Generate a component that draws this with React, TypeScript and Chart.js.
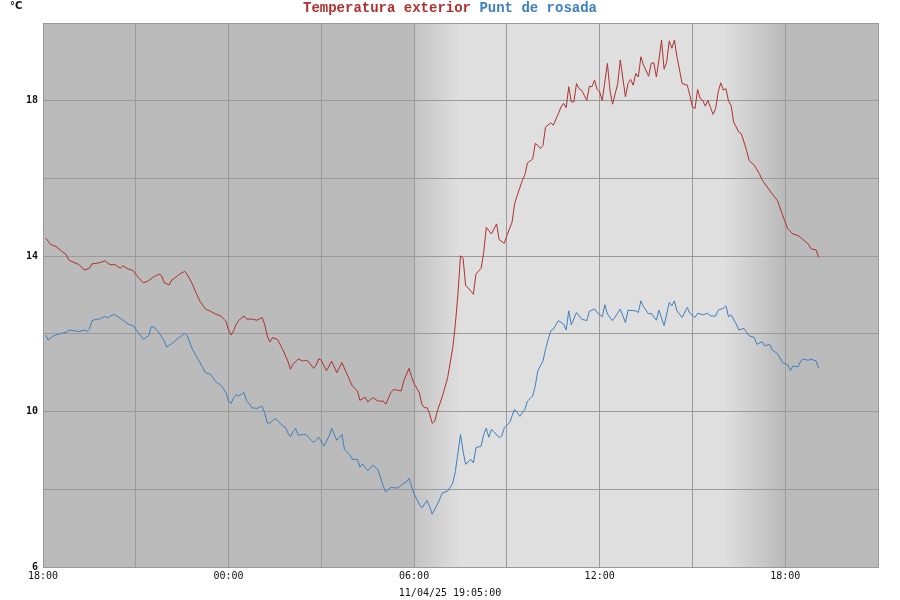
import React, { useEffect, useRef } from "react";
import { Chart, registerables } from "chart.js";

Chart.register(...registerables);

// minutes since 18:00 of previous day
const redTimes = [5, 15, 25, 35, 45, 50, 60, 70, 80, 90, 95, 110, 120, 130, 140, 150, 155, 165, 175, 185, 195, 205, 215, 225, 230, 235, 245, 250, 255, 265, 275, 280, 290, 295, 305, 315, 325, 335, 345, 355, 360, 365, 370, 375, 380, 390, 395, 405, 415, 425, 430, 435, 440, 445, 455, 465, 475, 480, 485, 495, 505, 510, 515, 525, 530, 535, 540, 550, 555, 560, 570, 580, 590, 600, 610, 615, 625, 630, 640, 650, 660, 665, 675, 680, 695, 700, 710, 715, 720, 730, 735, 740, 745, 750, 755, 760, 765, 775, 785, 795, 800, 805, 810, 815, 820, 825, 835, 840, 850, 855, 860, 870, 880, 885, 895, 900, 910, 915, 920, 930, 935, 940, 950, 955, 960, 965, 970, 975, 985, 990, 1000, 1005, 1010, 1015, 1020, 1025, 1030, 1035, 1040, 1045, 1055, 1060, 1065, 1070, 1075, 1080, 1085, 1095, 1100, 1105, 1115, 1120, 1130, 1135, 1140, 1145, 1150, 1155, 1160, 1165, 1175, 1180, 1185, 1190, 1195, 1200, 1205, 1210, 1215, 1220, 1225, 1230, 1235, 1240, 1250, 1255, 1260, 1265, 1270, 1275, 1280, 1285, 1290, 1295, 1300, 1305, 1310, 1315, 1320, 1325, 1330, 1335, 1340, 1350, 1355, 1365, 1370, 1380, 1390, 1395, 1405, 1415, 1425, 1435, 1445, 1455, 1465, 1475, 1485, 1490, 1500, 1505];
const redValues = [14.47, 14.30, 14.25, 14.14, 14.04, 13.90, 13.84, 13.78, 13.64, 13.69, 13.80, 13.83, 13.88, 13.78, 13.78, 13.69, 13.75, 13.67, 13.63, 13.45, 13.31, 13.37, 13.47, 13.54, 13.50, 13.32, 13.26, 13.39, 13.43, 13.54, 13.61, 13.52, 13.28, 13.11, 12.83, 12.64, 12.58, 12.51, 12.46, 12.32, 12.10, 11.97, 12.08, 12.25, 12.35, 12.46, 12.38, 12.38, 12.35, 12.42, 12.25, 11.95, 11.79, 11.90, 11.86, 11.60, 11.30, 11.09, 11.22, 11.35, 11.30, 11.32, 11.29, 11.11, 11.20, 11.36, 11.32, 11.05, 11.17, 11.30, 11.00, 11.26, 10.96, 10.66, 10.53, 10.29, 10.37, 10.25, 10.36, 10.27, 10.27, 10.19, 10.49, 10.57, 10.53, 10.79, 11.11, 10.90, 10.72, 10.49, 10.19, 10.10, 10.10, 9.95, 9.70, 9.75, 10.01, 10.40, 10.87, 11.65, 12.25, 13.02, 14.01, 13.95, 13.24, 13.18, 13.02, 13.54, 13.69, 14.10, 14.74, 14.57, 14.83, 14.42, 14.33, 14.53, 14.87, 15.35, 15.56, 15.95, 16.10, 16.40, 16.50, 16.90, 16.85, 16.77, 16.85, 17.32, 17.43, 17.37, 17.67, 17.84, 17.93, 17.82, 18.36, 17.97, 17.97, 18.44, 18.31, 18.27, 18.01, 18.37, 18.36, 18.53, 18.29, 18.23, 18.01, 18.96, 18.27, 17.91, 18.44, 19.05, 18.10, 18.44, 18.55, 18.40, 18.70, 18.61, 19.13, 18.92, 18.63, 18.96, 18.98, 18.61, 19.05, 19.56, 18.81, 19.00, 19.54, 19.35, 19.56, 19.13, 18.79, 18.44, 18.40, 18.14, 17.84, 17.80, 18.29, 18.06, 18.01, 17.86, 18.01, 17.82, 17.65, 17.80, 18.23, 18.46, 18.27, 18.31, 17.99, 17.88, 17.45, 17.19, 17.15, 16.72, 16.46, 16.34, 16.12, 15.97, 15.78, 15.60, 15.43, 15.05, 14.70, 14.57, 14.53, 14.42, 14.31, 14.19, 14.16, 13.97];

const blueTimes = [5, 10, 20, 25, 35, 40, 45, 50, 60, 70, 80, 85, 90, 95, 105, 110, 120, 125, 135, 140, 150, 155, 165, 175, 185, 195, 205, 210, 215, 225, 235, 240, 250, 255, 265, 275, 280, 290, 300, 310, 315, 325, 335, 345, 355, 360, 365, 370, 375, 380, 390, 395, 400, 405, 415, 425, 430, 435, 440, 450, 455, 465, 470, 475, 480, 485, 490, 495, 505, 510, 525, 535, 545, 555, 560, 570, 580, 585, 595, 600, 610, 615, 620, 630, 640, 650, 660, 665, 675, 685, 690, 700, 705, 710, 720, 730, 735, 745, 750, 755, 765, 775, 785, 795, 800, 810, 815, 820, 830, 835, 840, 850, 855, 860, 865, 870, 875, 885, 890, 895, 905, 915, 925, 935, 940, 950, 955, 960, 970, 975, 980, 985, 990, 1000, 1010, 1015, 1020, 1025, 1035, 1045, 1055, 1060, 1070, 1075, 1085, 1090, 1095, 1105, 1115, 1120, 1130, 1135, 1150, 1155, 1160, 1165, 1175, 1180, 1190, 1195, 1205, 1215, 1220, 1225, 1230, 1240, 1250, 1255, 1265, 1270, 1280, 1290, 1295, 1305, 1310, 1320, 1325, 1330, 1335, 1345, 1350, 1360, 1370, 1380, 1385, 1395, 1400, 1410, 1415, 1425, 1435, 1445, 1450, 1455, 1465, 1470, 1475, 1485, 1490, 1500, 1505];
const blueValues = [11.97, 11.84, 11.95, 11.97, 12.01, 12.03, 12.03, 12.10, 12.08, 12.06, 12.10, 12.06, 12.12, 12.34, 12.38, 12.38, 12.45, 12.41, 12.49, 12.49, 12.40, 12.36, 12.25, 12.21, 12.03, 11.86, 11.95, 12.18, 12.18, 12.03, 11.82, 11.66, 11.75, 11.80, 11.92, 12.01, 11.95, 11.60, 11.37, 11.13, 11.00, 10.96, 10.77, 10.68, 10.49, 10.27, 10.21, 10.36, 10.44, 10.40, 10.49, 10.27, 10.21, 10.10, 10.08, 10.14, 9.97, 9.71, 9.70, 9.82, 9.77, 9.63, 9.60, 9.45, 9.35, 9.48, 9.57, 9.39, 9.41, 9.41, 9.20, 9.34, 9.11, 9.37, 9.57, 9.26, 9.41, 9.02, 8.89, 8.77, 8.77, 8.57, 8.65, 8.48, 8.62, 8.51, 8.08, 7.93, 8.05, 8.03, 8.05, 8.16, 8.19, 8.28, 7.88, 7.62, 7.52, 7.71, 7.56, 7.36, 7.61, 7.91, 7.95, 8.16, 8.46, 9.41, 8.98, 8.64, 8.77, 8.68, 9.07, 9.11, 9.41, 9.57, 9.34, 9.54, 9.48, 9.33, 9.37, 9.58, 9.71, 10.06, 9.88, 10.06, 10.27, 10.40, 10.66, 11.05, 11.30, 11.60, 11.85, 12.08, 12.12, 12.34, 12.25, 12.10, 12.59, 12.23, 12.55, 12.38, 12.34, 12.58, 12.64, 12.55, 12.44, 12.75, 12.51, 12.34, 12.53, 12.64, 12.29, 12.61, 12.59, 12.55, 12.85, 12.70, 12.51, 12.53, 12.35, 12.61, 12.21, 12.81, 12.72, 12.85, 12.59, 12.42, 12.68, 12.53, 12.42, 12.53, 12.49, 12.53, 12.46, 12.46, 12.61, 12.66, 12.72, 12.44, 12.49, 12.25, 12.10, 12.14, 11.95, 11.91, 11.73, 11.80, 11.69, 11.73, 11.58, 11.49, 11.26, 11.20, 11.06, 11.17, 11.15, 11.30, 11.35, 11.32, 11.35, 11.30, 11.11];

const xTickLabels: Record<number, string> = { 0: "18:00", 360: "00:00", 720: "06:00", 1080: "12:00", 1440: "18:00" };
const yLabelledTicks = [6, 10, 14, 18];
const seriesNames = ["Temperatura exterior", "Punt de rosada"];
const unitLabel = "°C";
const dateLabel = "11/04/25 19:05:00";

const RED = "#b03030";
const BLUE = "#3d7fc0";

export default function App() {
  const ref = useRef<HTMLCanvasElement | null>(null);

  useEffect(() => {
    const canvas = ref.current;
    if (!canvas) return;

    const bgPlugin = {
      id: "bgBands",
      beforeDraw(chart: any) {
        const { ctx, chartArea, scales } = chart;
        const x = scales.x;
        ctx.save();
        ctx.fillStyle = "#bbbbbb";
        ctx.fillRect(chartArea.left, chartArea.top, chartArea.right - chartArea.left, chartArea.bottom - chartArea.top);
        const a = x.getPixelForValue(720);
        const b = x.getPixelForValue(810);
        const c = x.getPixelForValue(1320);
        const d = x.getPixelForValue(1436);
        const g = ctx.createLinearGradient(a, 0, d, 0);
        const span = d - a;
        g.addColorStop(0, "#c3c3c3");
        g.addColorStop((b - a) / span, "#dfdfdf");
        g.addColorStop((c - a) / span, "#dfdfdf");
        g.addColorStop(1, "#bbbbbb");
        ctx.fillStyle = g;
        ctx.fillRect(a, chartArea.top, d - a, chartArea.bottom - chartArea.top);
        ctx.restore();
      },
      afterDraw(chart: any) {
        const { ctx } = chart;
        ctx.save();
        ctx.font = 'bold 14px "Liberation Mono"';
        ctx.textBaseline = "middle";
        ctx.textAlign = "left";
        const t1 = seriesNames[0] + " ";
        const t2 = seriesNames[1];
        const w = ctx.measureText(t1 + t2).width;
        const x0 = 450 - w / 2;
        ctx.fillStyle = RED;
        ctx.fillText(t1, x0, 8);
        ctx.fillStyle = BLUE;
        ctx.fillText(t2, x0 + ctx.measureText(t1).width, 8);
        ctx.fillStyle = "#111";
        ctx.font = 'bold 10px "DejaVu Sans"';
        ctx.fillText(unitLabel, 10, 6);
        ctx.font = '10px "DejaVu Sans Mono"';
        ctx.textAlign = "center";
        ctx.fillText(dateLabel, 450, 593);
        ctx.restore();
      },
    };

    const chart = new Chart(canvas, {
      type: "line",
      data: {
        datasets: [
          {
            label: seriesNames[0],
            data: redTimes.map((t, i) => ({ x: t, y: redValues[i] })),
            borderColor: RED,
            borderWidth: 1,
            pointRadius: 0,
            tension: 0,
          },
          {
            label: seriesNames[1],
            data: blueTimes.map((t, i) => ({ x: t, y: blueValues[i] })),
            borderColor: BLUE,
            borderWidth: 1,
            pointRadius: 0,
            tension: 0,
          },
        ],
      },
      options: {
        responsive: false,
        animation: false,
        layout: { padding: { top: 23, right: 22, left: 0, bottom: 0 } },
        plugins: { legend: { display: false }, title: { display: false }, tooltip: { enabled: false } },
        scales: {
          x: {
            type: "linear",
            min: 0,
            max: 1620,
            afterFit: (s: any) => { s.height = 33; },
            grid: { color: "#9a9a9a", drawTicks: false, lineWidth: 1 },
            border: { display: true, color: "#9a9a9a" },
            ticks: {
              stepSize: 180,
              padding: 3,
              autoSkip: false,
              maxRotation: 0,
              color: "#111",
              font: { family: "DejaVu Sans Mono", size: 10 },
              callback: (v: any) => xTickLabels[Number(v)] ?? "",
            },
          },
          y: {
            min: 6,
            max: 20,
            afterFit: (s: any) => { s.width = 43; },
            grid: { color: "#9a9a9a", drawTicks: false, lineWidth: 1 },
            border: { display: true, color: "#9a9a9a" },
            ticks: {
              stepSize: 2,
              padding: 5,
              color: "#111",
              font: { family: "DejaVu Sans Mono", size: 10, weight: "bold" },
              callback: (v: any) => (yLabelledTicks.includes(Number(v)) ? String(v) : ""),
            },
          },
        },
      },
      plugins: [bgPlugin],
    });
    return () => chart.destroy();
  }, []);

  return (
    <div style={{ position: "fixed", left: 0, top: 0, width: 900, height: 600, background: "#fff" }}>
      <canvas ref={ref} width={900} height={600} style={{ display: "block" }} />
    </div>
  );
}
